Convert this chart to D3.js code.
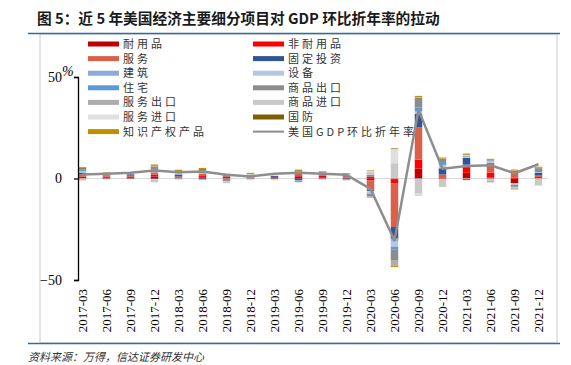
<!DOCTYPE html>
<html>
<head>
<meta charset="utf-8">
<script src="https://cdn.jsdelivr.net/npm/d3@7/dist/d3.min.js"></script>
<style>
  body { margin: 0; background: #fff; }
  svg { display: block; }
</style>
</head>
<body>
<svg width="571" height="365"></svg>
<script>
// quarters
const categories = ['2017-03', '2017-06', '2017-09', '2017-12', '2018-03', '2018-06', '2018-09', '2018-12',
  '2019-03', '2019-06', '2019-09', '2019-12', '2020-03', '2020-06', '2020-09', '2020-12',
  '2021-03', '2021-06', '2021-09', '2021-12'];

// contributions to GDP qoq saar, pct points
const durable = [0.2, 0.6, 0.3, 1.0, 0.1, 0.6, 0.2, 0.1, -0.2, 0.9, 0.6, 0.1, -0.9, -0.3, 4.9, -0.1, 2.8, 0.4, -2.3, 0.2];
const nondurable = [0.6, 0.4, 0.5, 0.8, 0.1, 0.6, 0.6, 0.3, 0.1, 0.7, 0.7, 0.4, 1.0, -2.0, 4.4, -0.3, 2.8, 2.5, 0.3, 0.5];
const services = [1.3, 0.6, 0.6, 1.2, 0.8, 1.2, 1.2, 0.5, 0.2, 2.0, 1.5, 0.9, -4.6, -21.6, 16.0, 2.0, 1.2, 4.5, 3.5, 1.0];
const fixedInv = [0.7, 0.1, 0.7, -0.3, 0.8, -0.5, 0.0, 0.2, 0.9, -0.8, 0.0, -0.5, -0.6, -5.7, 6.5, 3.0, 3.4, 0.4, 0.0, 1.1];
const structures = [0.3, 0.0, -0.1, 0.2, 0.4, 0.2, -0.1, -0.3, 0.1, -0.4, -0.3, -0.2, -0.3, -1.5, -0.3, 0.2, 0.0, -0.2, -0.2, 0.0];
const equipment = [0.6, 0.5, 0.4, 1.0, 0.5, 0.3, 0.1, 0.5, 0.0, 0.0, -0.2, -0.3, -1.1, -2.5, 1.2, 1.5, 0.6, 0.8, -0.6, 0.2];
const residential = [0.5, -0.2, -0.2, 0.4, -0.1, 0.0, -0.1, -0.2, -0.1, -0.1, 0.2, 0.2, 0.8, -1.5, 2.0, 1.4, 0.5, 0.3, -0.7, 0.1];
const goodsExp = [0.4, 0.3, 0.1, 1.2, 0.6, 1.2, -1.0, 0.3, -0.1, -0.5, 0.1, 0.1, -1.2, -5.4, 4.8, 1.5, 0.0, 0.2, -0.4, 2.0];
const servExp = [0.1, 0.1, 0.1, 0.3, 0.2, 0.2, -0.1, 0.1, 0.0, 0.0, 0.0, 0.0, -0.8, -2.5, 0.3, 0.2, 0.0, 0.1, 0.1, 0.2];
const goodsImp = [-1.0, -0.3, 0.0, -1.5, -0.4, -0.3, -0.9, 0.2, -0.1, 0.1, -0.2, 0.6, 1.4, 7.5, -7.2, -3.3, -0.3, -1.0, -0.5, -2.8];
const servImp = [-0.3, -0.1, -0.1, -0.2, -0.1, 0.0, -0.2, -0.3, 0.0, -0.1, -0.1, 0.0, 0.6, 7.0, -0.8, -0.3, 0.4, -0.3, -0.3, -0.3];
const defense = [0.4, 0.1, 0.0, 0.3, 0.2, 0.4, 0.1, 0.1, 0.0, 0.3, 0.2, 0.1, 0.1, 0.3, -0.1, -0.1, -0.5, -0.3, -0.3, -0.2];
const ipp = [0.5, 0.3, 0.1, 0.5, 0.6, 0.5, 0.1, 0.5, 0.1, 0.4, 0.3, 0.3, 0.2, -0.6, 0.6, 0.5, 0.6, 0.5, 0.5, 0.5];
const gdp = [2.0, 2.4, 2.8, 3.9, 3.1, 3.4, 1.9, 1.0, 2.3, 2.8, 2.3, 1.8, -5.1, -30.5, 33.8, 4.8, 6.1, 6.5, 2.6, 7.0];

const seriesNames = ['耐用品', '非耐用品', '服务', '固定投资', '建筑', '设备', '住宅',
  '商品出口', '服务出口', '商品进口', '服务进口', '国防', '知识产权产品'];
const seriesValues = [durable, nondurable, services, fixedInv, structures, equipment, residential,
  goodsExp, servExp, goodsImp, servImp, defense, ipp];
const lineName = '美国GDP环比折年率';
const yTicks = [-50, 0, 50];

const colors = ['#C00000', '#FF0000', '#DC5F48', '#2F5597', '#8EA9DB', '#B4C7E7', '#5B9BD5',
  '#8C8C8C', '#ADADAD', '#C9C9C9', '#E0E0E0', '#7F6000', '#BF9000'];
const lineColor = '#8E8E8E';

let svg = d3.select('svg');

let rows = categories.map((c, i) => {
    let r = { cat: c };
    seriesNames.forEach((k, j) => { r[k] = seriesValues[j][i]; });
    return r;
});

let x = d3.scalePoint().domain(categories).range([82.5, 538.5]);
let y = d3.scaleLinear().domain([-50, 50]).range([280, 77]);
let barW = 7.5;

// frame + blue rules
svg.append('rect').attr('x', 40).attr('y', 34).attr('width', 517).attr('height', 309)
    .attr('fill', 'none').attr('stroke', '#DDDDDD').attr('stroke-width', 1.5);
svg.append('line').attr('x1', 28).attr('x2', 560).attr('y1', 33.5).attr('y2', 33.5)
    .attr('stroke', '#2E6CA8').attr('stroke-width', 1.5);
svg.append('line').attr('x1', 28).attr('x2', 560).attr('y1', 343.5).attr('y2', 343.5)
    .attr('stroke', '#2E6CA8').attr('stroke-width', 1.5);

svg.append('text').attr('x', 37).attr('y', 24)
    .attr('font-family', '"Noto Sans CJK SC", sans-serif').attr('font-weight', 'bold')
    .attr('font-size', 14.7).attr('fill', '#1a1a1a')
    .text('图 5：近 5 年美国经济主要细分项目对 GDP 环比折年率的拉动');

svg.append('text').attr('x', 28).attr('y', 361)
    .attr('font-family', '"Noto Sans CJK SC", sans-serif').attr('font-style', 'italic')
    .attr('font-size', 11).attr('fill', '#333')
    .text('资料来源：万得，信达证券研发中心');

// zero line
svg.append('line').attr('x1', 78).attr('x2', 548).attr('y1', y(0)).attr('y2', y(0))
    .attr('stroke', '#D9D9D9').attr('stroke-width', 1);

// stacked bars
let stacked = d3.stack().keys(seriesNames).offset(d3.stackOffsetDiverging)(rows);
svg.append('g').selectAll('g')
    .data(stacked)
    .join('g')
    .attr('fill', (d, i) => colors[i])
    .selectAll('rect')
    .data(d => d)
    .join('rect')
    .attr('x', d => x(d.data.cat) - barW / 2)
    .attr('width', barW)
    .attr('y', d => y(Math.max(d[0], d[1])))
    .attr('height', d => Math.abs(y(d[0]) - y(d[1])));

// gdp line
svg.append('path')
    .datum(gdp)
    .attr('fill', 'none').attr('stroke', lineColor).attr('stroke-width', 2.5)
    .attr('stroke-linejoin', 'round')
    .attr('d', d3.line().x((d, i) => x(categories[i])).y(d => y(d)));

// y axis
let yAxis = svg.append('g').attr('transform', 'translate(78,0)')
    .call(d3.axisLeft(y).tickValues(yTicks).tickSize(4).tickPadding(12).tickFormat(d3.format('d')));
yAxis.select('.domain').attr('stroke', '#000').attr('stroke-width', 1.3);
yAxis.selectAll('.tick line').attr('stroke', '#000').attr('stroke-width', 1.3);
yAxis.selectAll('text').attr('font-family', '"Liberation Serif", serif').attr('font-size', 14).attr('fill', '#000');
svg.append('text').attr('x', 62).attr('y', 76)
    .attr('font-family', '"Liberation Serif", serif').attr('font-size', 14).attr('font-style', 'italic')
    .text('%');

// x labels
svg.append('g').selectAll('text')
    .data(categories)
    .join('text')
    .attr('transform', d => `translate(${x(d)}, 289) rotate(-90)`)
    .attr('text-anchor', 'end')
    .attr('dy', '0.35em')
    .attr('font-family', '"Liberation Serif", serif').attr('font-size', 13).attr('fill', '#000')
    .text(d => d);

// legend
let legendItems = seriesNames.map((n, i) => ({ name: n, color: colors[i], line: false }))
    .concat([{ name: lineName, color: lineColor, line: true }]);
let lg = svg.append('g').selectAll('g')
    .data(legendItems)
    .join('g')
    .attr('transform', (d, i) => `translate(${i % 2 ? 253 : 88}, ${44 + Math.floor(i / 2) * 14.6})`);
lg.filter(d => !d.line).append('rect')
    .attr('x', 0).attr('y', -2.5).attr('width', 31).attr('height', 5).attr('fill', d => d.color);
lg.filter(d => d.line).append('line')
    .attr('x1', 0).attr('x2', 31).attr('y1', 0).attr('y2', 0)
    .attr('stroke', d => d.color).attr('stroke-width', 2);
lg.append('text').attr('x', 35).attr('dy', '0.36em')
    .attr('font-family', '"Noto Sans CJK SC", sans-serif').attr('font-size', 11)
    .attr('letter-spacing', 3).attr('fill', '#333')
    .text(d => d.name);
</script>
</body>
</html>
